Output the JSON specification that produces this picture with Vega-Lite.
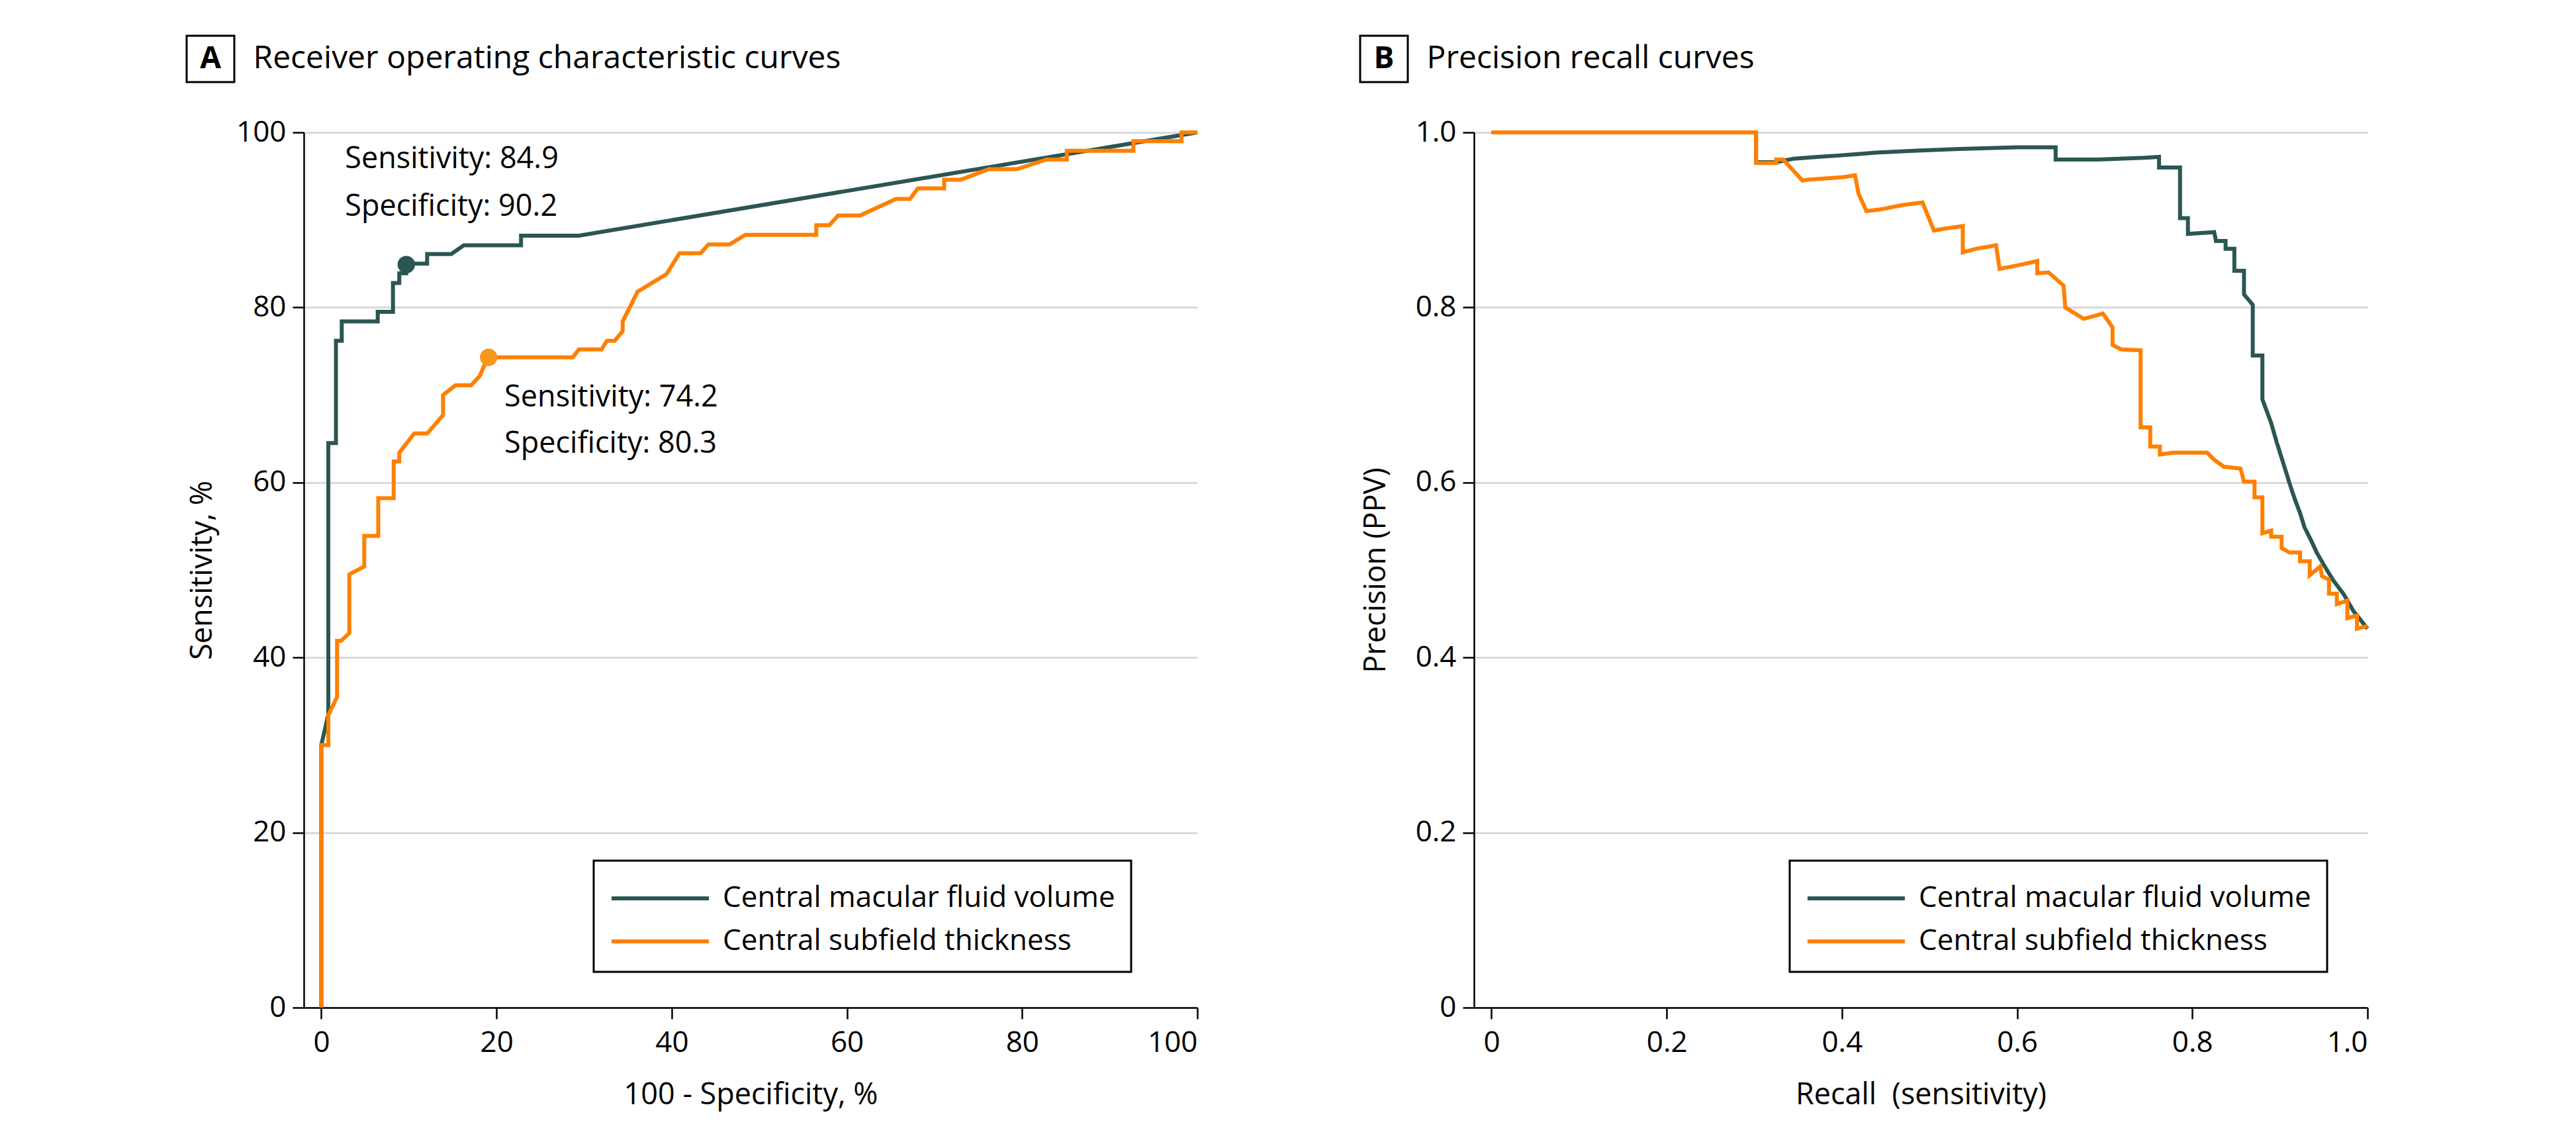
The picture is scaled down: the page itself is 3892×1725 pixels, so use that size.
{
  "$schema": "https://vega.github.io/schema/vega-lite/v6.json",
  "background": "white",
  "padding": {"left": 280, "top": 52, "right": 5, "bottom": 5},
  "config": {
    "font": "Open Sans",
    "view": {"stroke": null},
    "axis": {
      "domainColor": "black", "domainWidth": 2.5,
      "tickColor": "black", "tickWidth": 2.5, "tickSize": 17,
      "labelFont": "Open Sans", "labelFontSize": 44, "labelColor": "black",
      "titleFont": "Open Sans", "titleFontSize": 45, "titleFontWeight": "normal", "titleColor": "black",
      "gridColor": "#d9d9d9", "gridWidth": 3
    },
    "legend": {
      "labelFont": "Open Sans", "labelFontSize": 44, "labelColor": "black", "labelLimit": 2000
    }
  },
  "datasets": {
    "roc": [
      {"curve": "Central macular fluid volume", "x": 0, "y": 0},
      {"curve": "Central macular fluid volume", "x": 0, "y": 30},
      {"curve": "Central macular fluid volume", "x": 0.8, "y": 33.5},
      {"curve": "Central macular fluid volume", "x": 0.8, "y": 64.5},
      {"curve": "Central macular fluid volume", "x": 1.67, "y": 64.5},
      {"curve": "Central macular fluid volume", "x": 1.67, "y": 76.2},
      {"curve": "Central macular fluid volume", "x": 2.33, "y": 76.2},
      {"curve": "Central macular fluid volume", "x": 2.33, "y": 78.4},
      {"curve": "Central macular fluid volume", "x": 6.44, "y": 78.4},
      {"curve": "Central macular fluid volume", "x": 6.44, "y": 79.5},
      {"curve": "Central macular fluid volume", "x": 8.18, "y": 79.5},
      {"curve": "Central macular fluid volume", "x": 8.18, "y": 82.8},
      {"curve": "Central macular fluid volume", "x": 8.9, "y": 82.8},
      {"curve": "Central macular fluid volume", "x": 8.9, "y": 83.9},
      {"curve": "Central macular fluid volume", "x": 9.7, "y": 83.9},
      {"curve": "Central macular fluid volume", "x": 9.7, "y": 85.0},
      {"curve": "Central macular fluid volume", "x": 12.08, "y": 85.0},
      {"curve": "Central macular fluid volume", "x": 12.08, "y": 86.1},
      {"curve": "Central macular fluid volume", "x": 14.83, "y": 86.1},
      {"curve": "Central macular fluid volume", "x": 16.27, "y": 87.1},
      {"curve": "Central macular fluid volume", "x": 22.8, "y": 87.1},
      {"curve": "Central macular fluid volume", "x": 22.8, "y": 88.2},
      {"curve": "Central macular fluid volume", "x": 29.4, "y": 88.2},
      {"curve": "Central macular fluid volume", "x": 100, "y": 100},
      {"curve": "Central subfield thickness", "x": 0, "y": 0},
      {"curve": "Central subfield thickness", "x": 0, "y": 30.0},
      {"curve": "Central subfield thickness", "x": 0.8, "y": 30.0},
      {"curve": "Central subfield thickness", "x": 0.8, "y": 33.4},
      {"curve": "Central subfield thickness", "x": 1.8, "y": 35.5},
      {"curve": "Central subfield thickness", "x": 1.8, "y": 41.9},
      {"curve": "Central subfield thickness", "x": 2.25, "y": 41.9},
      {"curve": "Central subfield thickness", "x": 3.2, "y": 42.8},
      {"curve": "Central subfield thickness", "x": 3.2, "y": 49.5},
      {"curve": "Central subfield thickness", "x": 4.9, "y": 50.4},
      {"curve": "Central subfield thickness", "x": 4.9, "y": 53.9},
      {"curve": "Central subfield thickness", "x": 6.5, "y": 53.9},
      {"curve": "Central subfield thickness", "x": 6.5, "y": 58.2},
      {"curve": "Central subfield thickness", "x": 8.26, "y": 58.2},
      {"curve": "Central subfield thickness", "x": 8.26, "y": 62.4},
      {"curve": "Central subfield thickness", "x": 8.9, "y": 62.4},
      {"curve": "Central subfield thickness", "x": 8.9, "y": 63.4},
      {"curve": "Central subfield thickness", "x": 10.6, "y": 65.6},
      {"curve": "Central subfield thickness", "x": 12.1, "y": 65.6},
      {"curve": "Central subfield thickness", "x": 13.9, "y": 67.7},
      {"curve": "Central subfield thickness", "x": 13.9, "y": 70.0},
      {"curve": "Central subfield thickness", "x": 15.3, "y": 71.1},
      {"curve": "Central subfield thickness", "x": 17.1, "y": 71.1},
      {"curve": "Central subfield thickness", "x": 18.1, "y": 72.2},
      {"curve": "Central subfield thickness", "x": 19.0, "y": 74.3},
      {"curve": "Central subfield thickness", "x": 28.7, "y": 74.3},
      {"curve": "Central subfield thickness", "x": 29.4, "y": 75.2},
      {"curve": "Central subfield thickness", "x": 32.0, "y": 75.2},
      {"curve": "Central subfield thickness", "x": 32.6, "y": 76.2},
      {"curve": "Central subfield thickness", "x": 33.5, "y": 76.2},
      {"curve": "Central subfield thickness", "x": 34.4, "y": 77.3},
      {"curve": "Central subfield thickness", "x": 34.4, "y": 78.4},
      {"curve": "Central subfield thickness", "x": 36.1, "y": 81.8},
      {"curve": "Central subfield thickness", "x": 39.4, "y": 83.8},
      {"curve": "Central subfield thickness", "x": 40.9, "y": 86.2},
      {"curve": "Central subfield thickness", "x": 43.3, "y": 86.2},
      {"curve": "Central subfield thickness", "x": 44.2, "y": 87.2},
      {"curve": "Central subfield thickness", "x": 46.6, "y": 87.2},
      {"curve": "Central subfield thickness", "x": 48.4, "y": 88.3},
      {"curve": "Central subfield thickness", "x": 56.5, "y": 88.3},
      {"curve": "Central subfield thickness", "x": 56.5, "y": 89.4},
      {"curve": "Central subfield thickness", "x": 58.0, "y": 89.4},
      {"curve": "Central subfield thickness", "x": 59.0, "y": 90.5},
      {"curve": "Central subfield thickness", "x": 61.5, "y": 90.5},
      {"curve": "Central subfield thickness", "x": 65.6, "y": 92.4},
      {"curve": "Central subfield thickness", "x": 67.2, "y": 92.4},
      {"curve": "Central subfield thickness", "x": 68.1, "y": 93.6},
      {"curve": "Central subfield thickness", "x": 71.1, "y": 93.6},
      {"curve": "Central subfield thickness", "x": 71.1, "y": 94.6},
      {"curve": "Central subfield thickness", "x": 73.0, "y": 94.6},
      {"curve": "Central subfield thickness", "x": 76.2, "y": 95.8},
      {"curve": "Central subfield thickness", "x": 79.4, "y": 95.8},
      {"curve": "Central subfield thickness", "x": 82.8, "y": 96.9},
      {"curve": "Central subfield thickness", "x": 85.1, "y": 96.9},
      {"curve": "Central subfield thickness", "x": 85.1, "y": 97.9},
      {"curve": "Central subfield thickness", "x": 92.7, "y": 97.9},
      {"curve": "Central subfield thickness", "x": 92.7, "y": 99.0},
      {"curve": "Central subfield thickness", "x": 98.2, "y": 99.0},
      {"curve": "Central subfield thickness", "x": 98.2, "y": 100},
      {"curve": "Central subfield thickness", "x": 100, "y": 100}
    ],
    "pr": [
      {"curve": "Central macular fluid volume", "x": 0, "y": 1},
      {"curve": "Central macular fluid volume", "x": 0.302, "y": 1},
      {"curve": "Central macular fluid volume", "x": 0.302, "y": 0.966},
      {"curve": "Central macular fluid volume", "x": 0.325, "y": 0.966},
      {"curve": "Central macular fluid volume", "x": 0.345, "y": 0.970},
      {"curve": "Central macular fluid volume", "x": 0.372, "y": 0.972},
      {"curve": "Central macular fluid volume", "x": 0.402, "y": 0.974},
      {"curve": "Central macular fluid volume", "x": 0.439, "y": 0.977},
      {"curve": "Central macular fluid volume", "x": 0.482, "y": 0.979},
      {"curve": "Central macular fluid volume", "x": 0.534, "y": 0.981},
      {"curve": "Central macular fluid volume", "x": 0.600, "y": 0.983},
      {"curve": "Central macular fluid volume", "x": 0.644, "y": 0.983},
      {"curve": "Central macular fluid volume", "x": 0.644, "y": 0.969},
      {"curve": "Central macular fluid volume", "x": 0.692, "y": 0.969},
      {"curve": "Central macular fluid volume", "x": 0.746, "y": 0.971},
      {"curve": "Central macular fluid volume", "x": 0.762, "y": 0.972},
      {"curve": "Central macular fluid volume", "x": 0.762, "y": 0.960},
      {"curve": "Central macular fluid volume", "x": 0.786, "y": 0.960},
      {"curve": "Central macular fluid volume", "x": 0.786, "y": 0.902},
      {"curve": "Central macular fluid volume", "x": 0.795, "y": 0.902},
      {"curve": "Central macular fluid volume", "x": 0.795, "y": 0.884},
      {"curve": "Central macular fluid volume", "x": 0.825, "y": 0.886},
      {"curve": "Central macular fluid volume", "x": 0.827, "y": 0.876},
      {"curve": "Central macular fluid volume", "x": 0.838, "y": 0.876},
      {"curve": "Central macular fluid volume", "x": 0.838, "y": 0.867},
      {"curve": "Central macular fluid volume", "x": 0.848, "y": 0.867},
      {"curve": "Central macular fluid volume", "x": 0.848, "y": 0.842},
      {"curve": "Central macular fluid volume", "x": 0.859, "y": 0.842},
      {"curve": "Central macular fluid volume", "x": 0.859, "y": 0.815},
      {"curve": "Central macular fluid volume", "x": 0.869, "y": 0.803},
      {"curve": "Central macular fluid volume", "x": 0.869, "y": 0.745},
      {"curve": "Central macular fluid volume", "x": 0.880, "y": 0.745},
      {"curve": "Central macular fluid volume", "x": 0.880, "y": 0.695},
      {"curve": "Central macular fluid volume", "x": 0.890, "y": 0.668},
      {"curve": "Central macular fluid volume", "x": 0.896, "y": 0.647},
      {"curve": "Central macular fluid volume", "x": 0.902, "y": 0.628},
      {"curve": "Central macular fluid volume", "x": 0.907, "y": 0.612},
      {"curve": "Central macular fluid volume", "x": 0.911, "y": 0.599},
      {"curve": "Central macular fluid volume", "x": 0.917, "y": 0.581},
      {"curve": "Central macular fluid volume", "x": 0.923, "y": 0.565},
      {"curve": "Central macular fluid volume", "x": 0.928, "y": 0.549},
      {"curve": "Central macular fluid volume", "x": 0.936, "y": 0.533},
      {"curve": "Central macular fluid volume", "x": 0.942, "y": 0.520},
      {"curve": "Central macular fluid volume", "x": 0.950, "y": 0.506},
      {"curve": "Central macular fluid volume", "x": 0.961, "y": 0.488},
      {"curve": "Central macular fluid volume", "x": 0.973, "y": 0.472},
      {"curve": "Central macular fluid volume", "x": 0.984, "y": 0.453},
      {"curve": "Central macular fluid volume", "x": 1.0, "y": 0.433},
      {"curve": "Central subfield thickness", "x": 0, "y": 1},
      {"curve": "Central subfield thickness", "x": 0.302, "y": 1},
      {"curve": "Central subfield thickness", "x": 0.302, "y": 0.965},
      {"curve": "Central subfield thickness", "x": 0.325, "y": 0.965},
      {"curve": "Central subfield thickness", "x": 0.325, "y": 0.969},
      {"curve": "Central subfield thickness", "x": 0.333, "y": 0.969},
      {"curve": "Central subfield thickness", "x": 0.355, "y": 0.945},
      {"curve": "Central subfield thickness", "x": 0.361, "y": 0.946},
      {"curve": "Central subfield thickness", "x": 0.402, "y": 0.949},
      {"curve": "Central subfield thickness", "x": 0.415, "y": 0.951},
      {"curve": "Central subfield thickness", "x": 0.419, "y": 0.930},
      {"curve": "Central subfield thickness", "x": 0.428, "y": 0.910},
      {"curve": "Central subfield thickness", "x": 0.444, "y": 0.912},
      {"curve": "Central subfield thickness", "x": 0.469, "y": 0.917},
      {"curve": "Central subfield thickness", "x": 0.492, "y": 0.920},
      {"curve": "Central subfield thickness", "x": 0.505, "y": 0.888},
      {"curve": "Central subfield thickness", "x": 0.517, "y": 0.890},
      {"curve": "Central subfield thickness", "x": 0.538, "y": 0.893},
      {"curve": "Central subfield thickness", "x": 0.538, "y": 0.863},
      {"curve": "Central subfield thickness", "x": 0.553, "y": 0.867},
      {"curve": "Central subfield thickness", "x": 0.576, "y": 0.871},
      {"curve": "Central subfield thickness", "x": 0.580, "y": 0.844},
      {"curve": "Central subfield thickness", "x": 0.605, "y": 0.849},
      {"curve": "Central subfield thickness", "x": 0.623, "y": 0.853},
      {"curve": "Central subfield thickness", "x": 0.623, "y": 0.839},
      {"curve": "Central subfield thickness", "x": 0.636, "y": 0.840},
      {"curve": "Central subfield thickness", "x": 0.653, "y": 0.825},
      {"curve": "Central subfield thickness", "x": 0.655, "y": 0.800},
      {"curve": "Central subfield thickness", "x": 0.676, "y": 0.787},
      {"curve": "Central subfield thickness", "x": 0.698, "y": 0.793},
      {"curve": "Central subfield thickness", "x": 0.709, "y": 0.777},
      {"curve": "Central subfield thickness", "x": 0.709, "y": 0.757},
      {"curve": "Central subfield thickness", "x": 0.719, "y": 0.752},
      {"curve": "Central subfield thickness", "x": 0.741, "y": 0.751},
      {"curve": "Central subfield thickness", "x": 0.741, "y": 0.663},
      {"curve": "Central subfield thickness", "x": 0.752, "y": 0.663},
      {"curve": "Central subfield thickness", "x": 0.752, "y": 0.641},
      {"curve": "Central subfield thickness", "x": 0.763, "y": 0.641},
      {"curve": "Central subfield thickness", "x": 0.763, "y": 0.632},
      {"curve": "Central subfield thickness", "x": 0.778, "y": 0.634},
      {"curve": "Central subfield thickness", "x": 0.817, "y": 0.634},
      {"curve": "Central subfield thickness", "x": 0.825, "y": 0.626},
      {"curve": "Central subfield thickness", "x": 0.836, "y": 0.618},
      {"curve": "Central subfield thickness", "x": 0.855, "y": 0.616},
      {"curve": "Central subfield thickness", "x": 0.859, "y": 0.601},
      {"curve": "Central subfield thickness", "x": 0.871, "y": 0.601},
      {"curve": "Central subfield thickness", "x": 0.871, "y": 0.583},
      {"curve": "Central subfield thickness", "x": 0.880, "y": 0.583},
      {"curve": "Central subfield thickness", "x": 0.880, "y": 0.542},
      {"curve": "Central subfield thickness", "x": 0.890, "y": 0.545},
      {"curve": "Central subfield thickness", "x": 0.890, "y": 0.538},
      {"curve": "Central subfield thickness", "x": 0.902, "y": 0.538},
      {"curve": "Central subfield thickness", "x": 0.902, "y": 0.525},
      {"curve": "Central subfield thickness", "x": 0.911, "y": 0.520},
      {"curve": "Central subfield thickness", "x": 0.923, "y": 0.520},
      {"curve": "Central subfield thickness", "x": 0.923, "y": 0.510},
      {"curve": "Central subfield thickness", "x": 0.934, "y": 0.510},
      {"curve": "Central subfield thickness", "x": 0.934, "y": 0.494},
      {"curve": "Central subfield thickness", "x": 0.946, "y": 0.504},
      {"curve": "Central subfield thickness", "x": 0.948, "y": 0.493},
      {"curve": "Central subfield thickness", "x": 0.956, "y": 0.489},
      {"curve": "Central subfield thickness", "x": 0.956, "y": 0.473},
      {"curve": "Central subfield thickness", "x": 0.965, "y": 0.473},
      {"curve": "Central subfield thickness", "x": 0.965, "y": 0.461},
      {"curve": "Central subfield thickness", "x": 0.977, "y": 0.465},
      {"curve": "Central subfield thickness", "x": 0.977, "y": 0.445},
      {"curve": "Central subfield thickness", "x": 0.988, "y": 0.448},
      {"curve": "Central subfield thickness", "x": 0.988, "y": 0.433},
      {"curve": "Central subfield thickness", "x": 1.0, "y": 0.436}
    ],
    "pts": [
      {"curve": "Central macular fluid volume", "x": 9.7, "y": 84.9},
      {"curve": "Central subfield thickness", "x": 19.1, "y": 74.3}
    ],
    "ann": [
      {"x": 2.7, "y": 95.9, "label": "Sensitivity: 84.9"},
      {"x": 2.7, "y": 90.5, "label": "Specificity: 90.2"},
      {"x": 20.9, "y": 68.7, "label": "Sensitivity: 74.2"},
      {"x": 20.9, "y": 63.4, "label": "Specificity: 80.3"}
    ]
  },
  "spacing": 232,
  "resolve": {"scale": {"color": "independent", "fill": "independent"}, "legend": {"color": "independent", "fill": "independent"}},
  "hconcat": [
    {
      "spacing": 52,
      "resolve": {"scale": {"color": "independent", "fill": "independent"}, "legend": {"color": "independent", "fill": "independent"}},
      "vconcat": [
        {
          "spacing": 26,
          "hconcat": [
            {
              "width": 72, "height": 70,
              "view": {"stroke": "black", "strokeWidth": 3},
              "data": {"values": [{"letter": "A"}]},
              "mark": {"type": "text", "fontSize": 46, "fontWeight": "bold", "align": "center", "baseline": "middle", "color": "black", "font": "Open Sans"},
              "encoding": {"text": {"field": "letter"}}
            },
            {
              "width": 1, "height": 70,
              "data": {"values": [{"t": "Receiver operating characteristic curves"}]},
              "mark": {"type": "text", "fontSize": 48, "align": "left", "baseline": "middle", "color": "black", "font": "Open Sans"},
              "encoding": {"text": {"field": "t"}}
            }
          ]
        },
        {
          "spacing": 0,
          "resolve": {"scale": {"color": "independent", "fill": "independent"}, "legend": {"color": "independent", "fill": "independent"}},
          "hconcat": [
            {
              "width": 1, "height": 1,
              "data": {"values": [{"t": ""}]},
              "mark": {"type": "text"},
              "encoding": {"text": {"field": "t"}}
            },
            {
              "width": 1350, "height": 1322,
              "layer": [
                {
                  "mark": {"type": "rule", "color": "black", "strokeWidth": 3, "strokeDash": [0.5, 9], "strokeCap": "round"},
                  "encoding": {
                    "x": {"datum": 0, "type": "quantitative", "scale": {"domain": [-2, 100], "nice": false}},
                    "y": {"datum": 0, "type": "quantitative"},
                    "x2": {"datum": 100},
                    "y2": {"datum": 100}
                  }
                },
                {
                  "data": {"name": "roc"},
                  "mark": {"type": "line", "strokeWidth": 6, "strokeJoin": "miter"},
                  "encoding": {
                    "x": {"field": "x", "type": "quantitative", "scale": {"domain": [-2, 100], "nice": false},
                          "axis": {"values": [0, 20, 40, 60, 80, 100], "grid": false, "title": "100 - Specificity, %", "labelPadding": 14, "titlePadding": 34}},
                    "y": {"field": "y", "type": "quantitative", "scale": {"domain": [0, 100], "nice": false},
                          "axis": {"values": [0, 20, 40, 60, 80, 100], "grid": true, "title": "Sensitivity, %", "labelPadding": 10, "titlePadding": 28}},
                    "color": {"field": "curve", "type": "nominal",
                              "scale": {"domain": ["Central macular fluid volume", "Central subfield thickness"], "range": ["#2b5652", "#ff8000"]},
                              "legend": {"orient": "none", "legendX": 438, "legendY": 1100, "title": null,
                                         "strokeColor": "black", "padding": 24,
                                         "symbolType": "M-1.33,0M-1,0H3.9", "symbolSize": 3600, "symbolStrokeWidth": 6,
                                         "labelOffset": 105, "rowPadding": 10,
                                         "encode": {"legend": {"update": {"strokeWidth": {"value": 3}}}}}}
                  }
                },
                {
                  "data": {"name": "pts"},
                  "mark": {"type": "point", "filled": true, "size": 700, "opacity": 1},
                  "encoding": {
                    "x": {"field": "x", "type": "quantitative"},
                    "y": {"field": "y", "type": "quantitative"},
                    "fill": {"field": "curve", "type": "nominal",
                             "scale": {"domain": ["Central macular fluid volume", "Central subfield thickness"], "range": ["#2b5652", "#f7981d"]},
                             "legend": null}
                  }
                },
                {
                  "data": {"name": "ann"},
                  "mark": {"type": "text", "align": "left", "baseline": "alphabetic", "fontSize": 45, "color": "black"},
                  "encoding": {
                    "x": {"field": "x", "type": "quantitative"},
                    "y": {"field": "y", "type": "quantitative"},
                    "text": {"field": "label"}
                  }
                }
              ]
            }
          ]
        }
      ]
    },
    {
      "spacing": 52,
      "resolve": {"scale": {"color": "independent", "fill": "independent"}, "legend": {"color": "independent", "fill": "independent"}},
      "vconcat": [
        {
          "spacing": 26,
          "hconcat": [
            {
              "width": 72, "height": 70,
              "view": {"stroke": "black", "strokeWidth": 3},
              "data": {"values": [{"letter": "B"}]},
              "mark": {"type": "text", "fontSize": 46, "fontWeight": "bold", "align": "center", "baseline": "middle", "color": "black", "font": "Open Sans"},
              "encoding": {"text": {"field": "letter"}}
            },
            {
              "width": 1, "height": 70,
              "data": {"values": [{"t": "Precision recall curves"}]},
              "mark": {"type": "text", "fontSize": 48, "align": "left", "baseline": "middle", "color": "black", "font": "Open Sans"},
              "encoding": {"text": {"field": "t"}}
            }
          ]
        },
        {
          "spacing": 0,
          "resolve": {"scale": {"color": "independent", "fill": "independent"}, "legend": {"color": "independent", "fill": "independent"}},
          "hconcat": [
            {
              "width": 1, "height": 1,
              "data": {"values": [{"t": ""}]},
              "mark": {"type": "text"},
              "encoding": {"text": {"field": "t"}}
            },
            {
              "width": 1350, "height": 1322,
              "data": {"name": "pr"},
              "mark": {"type": "line", "strokeWidth": 6, "strokeJoin": "miter"},
              "encoding": {
                "x": {"field": "x", "type": "quantitative", "scale": {"domain": [-0.02, 1], "nice": false},
                      "axis": {"values": [0, 0.2, 0.4, 0.6, 0.8, 1], "labelExpr": "datum.value === 0 ? '0' : format(datum.value, '.1f')", "grid": false, "title": "Recall\u00a0 (sensitivity)", "labelPadding": 14, "titlePadding": 34}},
                "y": {"field": "y", "type": "quantitative", "scale": {"domain": [0, 1], "nice": false},
                      "axis": {"values": [0, 0.2, 0.4, 0.6, 0.8, 1], "labelExpr": "datum.value === 0 ? '0' : format(datum.value, '.1f')", "grid": true, "title": "Precision (PPV)", "labelPadding": 10, "titlePadding": 37}},
                "color": {"field": "curve", "type": "nominal",
                          "scale": {"domain": ["Central macular fluid volume", "Central subfield thickness"], "range": ["#2b5652", "#ff8000"]},
                          "legend": {"orient": "none", "legendX": 477, "legendY": 1100, "title": null,
                                     "strokeColor": "black", "padding": 24,
                                     "symbolType": "M-1.33,0M-1,0H3.9", "symbolSize": 3600, "symbolStrokeWidth": 6,
                                     "labelOffset": 105, "rowPadding": 10,
                                     "encode": {"legend": {"update": {"strokeWidth": {"value": 3}}}}}}
              }
            }
          ]
        }
      ]
    }
  ]
}
